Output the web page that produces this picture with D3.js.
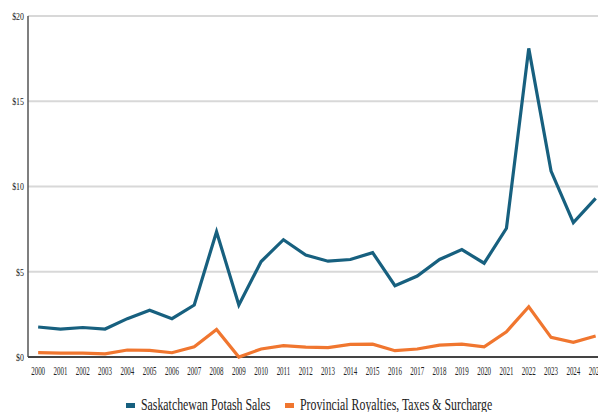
<!DOCTYPE html>
<html>
<head>
<meta charset="utf-8">
<script src="https://cdn.jsdelivr.net/npm/d3@7"></script>
<style>
  html, body { margin: 0; padding: 0; background: #fff; overflow: hidden; }
  text { font-family: "Liberation Serif", "Times New Roman", serif; fill: #222; }
</style>
</head>
<body>
<div id="chart"></div>
<script>
// data, in billions of dollars
var years = ["2000","2001","2002","2003","2004","2005","2006","2007","2008","2009","2010","2011","2012",
             "2013","2014","2015","2016","2017","2018","2019","2020","2021","2022","2023","2024","2025"];
var potashSales = [1.76, 1.64, 1.73, 1.64, 2.25, 2.74, 2.25, 3.05, 7.35, 3.05, 5.6, 6.88, 5.98,
                   5.62, 5.72, 6.12, 4.18, 4.75, 5.72, 6.3, 5.5, 7.55, 18.1, 10.9, 7.88, 9.3];
var royalties = [0.26, 0.23, 0.23, 0.18, 0.41, 0.39, 0.25, 0.6, 1.62, 0.0, 0.47, 0.67, 0.58,
                 0.55, 0.74, 0.75, 0.37, 0.47, 0.7, 0.76, 0.6, 1.48, 2.95, 1.15, 0.86, 1.23];
var yTicks = [0, 5, 10, 15, 20];
var seriesNames = ["Saskatchewan Potash Sales", "Provincial Royalties, Taxes & Surcharge"];
var colors = ["#17607f", "#f0762f"];

var width = 598, height = 412;
var plotLeft = 28, plotTop = 16, plotBottom = 357;

var svg = d3.select("#chart").append("svg")
  .attr("width", width)
  .attr("height", height);

// the chart runs past the right edge, like the reference
var x = d3.scaleBand().domain(years).range([27, 27 + years.length * 22.3]);
var y = d3.scaleLinear().domain([0, 20]).range([plotBottom, plotTop]);

// gridlines
svg.append("g").selectAll("line")
  .data(yTicks.filter(function(d) { return d > 0; }))
  .enter().append("line")
  .attr("x1", plotLeft).attr("x2", width)
  .attr("y1", function(d) { return y(d); })
  .attr("y2", function(d) { return y(d); })
  .style("stroke", "#d8d8d8")
  .style("stroke-width", 2);

// y labels
svg.append("g").selectAll("text")
  .data(yTicks)
  .enter().append("text")
  .attr("transform", function(d) { return "translate(24," + (y(d) + 3.8) + ") scale(0.7,1)"; })
  .attr("text-anchor", "end")
  .style("font-size", "11.3px")
  .text(function(d) { return "$" + d; });

// x labels
svg.append("g").selectAll("text")
  .data(years)
  .enter().append("text")
  .attr("transform", function(d) { return "translate(" + (x(d) + x.bandwidth() / 2) + ",375) scale(0.6,1)"; })
  .attr("text-anchor", "middle")
  .style("font-size", "11.6px")
  .text(function(d) { return d; });

// axes lines
svg.append("line")
  .attr("x1", plotLeft).attr("x2", plotLeft)
  .attr("y1", plotTop).attr("y2", plotBottom)
  .style("stroke", "#555")
  .style("stroke-width", 1.5);

svg.append("line")
  .attr("x1", plotLeft).attr("x2", width)
  .attr("y1", plotBottom).attr("y2", plotBottom)
  .style("stroke", "#444")
  .style("stroke-width", 2);

var line = d3.line()
  .x(function(d, i) { return x(years[i]) + x.bandwidth() / 2; })
  .y(function(d) { return y(d); });

[potashSales, royalties].forEach(function(values, i) {
  svg.append("path")
    .datum(values)
    .attr("d", line)
    .style("fill", "none")
    .style("stroke", colors[i])
    .style("stroke-width", 3.2);
});

// legend
var legendX = [126, 285];
seriesNames.forEach(function(name, i) {
  svg.append("rect")
    .attr("x", legendX[i])
    .attr("y", 403)
    .attr("width", 9)
    .attr("height", 5)
    .attr("fill", colors[i]);

  svg.append("text")
    .attr("transform", "translate(" + (legendX[i] + 15) + ",410) scale(0.74,1)")
    .style("font-size", "16px")
    .text(name);
});
</script>
</body>
</html>
